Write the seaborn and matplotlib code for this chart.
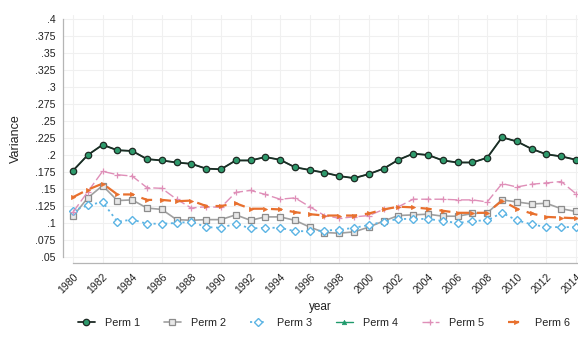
import numpy as np
import pandas as pd
import matplotlib
matplotlib.use("Agg")
import matplotlib.pyplot as plt
import seaborn as sns

years = list(range(1980, 2015))

perm1 = [.177, .200, .215, .207, .206, .194, .192, .189, .187, .180, .179, .192,
         .192, .197, .193, .182, .178, .174, .169, .166, .172, .180, .193, .202,
         .200, .192, .189, .189, .196, .226, .220, .209, .201, .198, .193]
perm2 = [.110, .137, .155, .133, .134, .122, .120, .105, .104, .105, .105, .112,
         .104, .109, .109, .104, .094, .086, .085, .087, .094, .103, .111, .112,
         .113, .110, .110, .114, .115, .134, .131, .128, .129, .121, .117]
perm3 = [.118, .126, .131, .102, .105, .099, .099, .100, .102, .094, .093, .099,
         .092, .093, .093, .088, .088, .089, .090, .093, .097, .102, .106, .106,
         .106, .103, .100, .103, .104, .115, .104, .098, .094, .094, .094]
perm4 = list(perm1)
perm5 = [.116, .146, .176, .171, .169, .152, .151, .135, .122, .124, .123, .145,
         .148, .142, .135, .137, .124, .111, .107, .109, .111, .120, .124, .135,
         .135, .135, .134, .134, .131, .158, .153, .157, .159, .161, .143]
perm6 = [.138, .149, .158, .142, .142, .134, .134, .132, .133, .125, .125, .129,
         .121, .121, .120, .116, .113, .111, .111, .111, .114, .120, .124, .123,
         .121, .118, .115, .115, .115, .133, .121, .114, .109, .108, .107]

labels = ["Perm 1", "Perm 2", "Perm 3", "Perm 4", "Perm 5", "Perm 6"]
series = [perm1, perm2, perm3, perm4, perm5, perm6]

y_ticks = [.05, .075, .1, .125, .15, .175, .2, .225, .25, .275, .3, .325, .35, .375, .4]
y_tick_labels = [".05", ".075", ".1", ".125", ".15", ".175", ".2", ".225", ".25",
                 ".275", ".3", ".325", ".35", ".375", ".4"]
x_ticks = list(range(1980, 2015, 2))

sns.set_theme(style="white")
plt.rcParams["font.family"] = ["Liberation Sans", "DejaVu Sans"]

styles = {
    "Perm 1": dict(color="#1e2a24", marker="o", linestyle="-", ms=4.6, mfc="#2e9a6c", mec="#1e2a24", mew=0.9, lw=1.3),
    "Perm 2": dict(color="#a0a0a0", marker="s", linestyle="-", ms=4.2, mfc="#e8e8e8", mec="#8c8c8c", mew=0.9, lw=1.2),
    "Perm 3": dict(color="#5cb4e4", marker="D", linestyle=(0, (1.2, 2.0)), ms=4.0, mfc="white", mec="#5cb4e4", mew=1.0, lw=1.3),
    "Perm 4": dict(color="#1f9a6c", marker="^", linestyle="-", ms=3.2, mfc="#1f9a6c", mec="#1f9a6c", mew=0.5, lw=1.0),
    "Perm 5": dict(color="#df8fb8", marker="+", linestyle=(0, (7, 2.5)), ms=4.5, mfc="#df8fb8", mec="#df8fb8", mew=0.9, lw=1.0),
    "Perm 6": dict(color="#e8702e", marker=">", linestyle=(0, (5, 3.5)), ms=3.0, mfc="#e8702e", mec="#e8702e", mew=0.5, lw=1.6),
}

fig = plt.figure(figsize=(5.78, 3.43), dpi=100)
ax = fig.add_axes([63 / 578, 80 / 343, (578 - 63) / 578, 248 / 343])

order = ["Perm 2", "Perm 3", "Perm 5", "Perm 6", "Perm 4", "Perm 1"]
handles = {}
for name in order:
    vals = series[labels.index(name)]
    df = pd.DataFrame({"year": years, "Variance": vals})
    st = styles[name]
    sns.lineplot(data=df, x="year", y="Variance", ax=ax, color=st["color"],
                 marker=st["marker"], linestyle=st["linestyle"], markersize=st["ms"],
                 markerfacecolor=st["mfc"], markeredgecolor=st["mec"],
                 markeredgewidth=st["mew"], linewidth=st["lw"], label=name, legend=False)
    handles[name] = ax.lines[-1]

ax.set_xlim(1980 - 10 / 14.8, 2014 + 2 / 14.8)
ax.set_ylim(0.05 - 6 / 683, 0.4 + 4 / 683)
ax.set_yticks(y_ticks)
ax.set_yticklabels(y_tick_labels)
ax.set_xticks(x_ticks)
ax.set_xticklabels([str(y) for y in x_ticks], rotation=45, ha="right", rotation_mode="anchor")

ax.grid(True, color="#f0f0f0", linewidth=0.8)
ax.set_axisbelow(True)
for s in ["top", "right"]:
    ax.spines[s].set_visible(False)
ax.spines["left"].set_bounds(0.05, 0.4)
ax.spines["bottom"].set_bounds(1980, 2014 + 2 / 14.8)
for s in ["left", "bottom"]:
    ax.spines[s].set_color("#b5b5b5")
    ax.spines[s].set_linewidth(0.9)

ax.tick_params(axis="both", which="major", length=3.5, width=0.8, color="#b5b5b5",
               labelsize=7.6, labelcolor="#222222", direction="out", pad=2)
ax.tick_params(axis="x", pad=3)
ax.set_xlabel("year", fontsize=8.5, color="#222222", labelpad=4)
ax.set_ylabel("Variance", fontsize=9, color="#222222", labelpad=9)

fig.legend([handles[n] for n in labels], labels, loc="center", ncol=6,
           bbox_to_anchor=(0.56, 0.058), frameon=False, fontsize=7.8,
           handlelength=1.6, handletextpad=0.9, columnspacing=2.2,
           labelcolor="#222222")

fig.savefig("out.png", dpi=100)
